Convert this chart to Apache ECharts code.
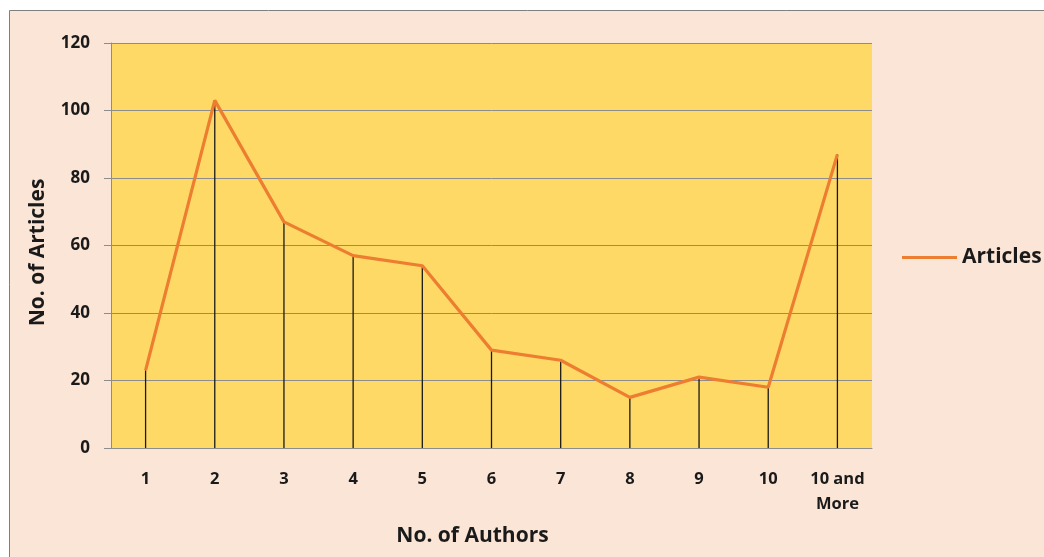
<!DOCTYPE html>
<html>
<head>
<meta charset="utf-8">
<style>
  html, body { margin: 0; padding: 0; background: #ffffff; }
  #chart { width: 1044px; height: 557px; }
</style>
<script src="https://cdn.jsdelivr.net/npm/echarts@6/dist/echarts.min.js"></script>
</head>
<body>
<div id="chart"></div>
<script>
// Number of authors per article
const categories = ['1', '2', '3', '4', '5', '6', '7', '8', '9', '10', '10 and\nMore'];
const articles = [23, 103, 67, 57, 54, 29, 26, 15, 21, 18, 87];
const yTicks = { min: 0, max: 120, interval: 20 };

const FONT = '"Open Sans", Lato, sans-serif';
const TEXT = '#1a1a1a';
const chart = echarts.init(document.getElementById('chart'));

chart.setOption({
  backgroundColor: '#ffffff',
  animation: false,
  graphic: [{
    type: 'rect',
    z: -10,
    silent: true,
    shape: { x: 9.5, y: 10.5, width: 1060, height: 580 },
    style: { fill: '#FBE5D6', stroke: '#7f7f7f', lineWidth: 1 }
  }],
  legend: {
    data: [{ name: 'Articles', icon: 'rect' }],
    orient: 'vertical',
    left: 897,
    top: 242,
    itemWidth: 55,
    itemHeight: 3,
    itemGap: 4,
    textStyle: { fontFamily: FONT, fontWeight: 'bold', fontSize: 21, color: TEXT }
  },
  grid: {
    left: 111,
    right: 172,
    top: 43,
    bottom: 109,
    show: true,
    backgroundColor: '#FFD966',
    borderWidth: 0
  },
  xAxis: {
    type: 'category',
    data: categories,
    boundaryGap: true,
    name: 'No. of Authors',
    nameLocation: 'middle',
    nameGap: 78,
    nameTextStyle: {
      fontFamily: FONT, fontWeight: 'bold', fontSize: 21, color: TEXT,
      padding: [0, 38, 0, 0]
    },
    axisLine: { show: true, lineStyle: { color: '#8c8c8c', width: 1 } },
    axisTick: { show: false },
    axisLabel: {
      fontFamily: FONT, fontWeight: 'bold', fontSize: 16.5, color: TEXT,
      margin: 19, lineHeight: 25, interval: 0
    }
  },
  yAxis: {
    type: 'value',
    min: yTicks.min,
    max: yTicks.max,
    interval: yTicks.interval,
    name: 'No. of Articles',
    nameLocation: 'middle',
    nameGap: 62,
    nameTextStyle: {
      fontFamily: FONT, fontWeight: 'bold', fontSize: 21, color: TEXT,
      padding: [0, 14, 0, 0]
    },
    axisLine: { show: true, lineStyle: { color: '#8c8c8c', width: 1 } },
    axisTick: { show: true, inside: false, length: 7, lineStyle: { color: '#8c8c8c' } },
    axisLabel: { fontFamily: FONT, fontWeight: 'bold', fontSize: 17, color: TEXT, margin: 21 },
    splitLine: { show: true, lineStyle: { color: '#8c8c8c', width: 1 } }
  },
  series: [
    {
      // drop lines from each point down to the category axis
      name: 'drop',
      type: 'bar',
      data: articles,
      barWidth: 1.3,
      barGap: '-100%',
      itemStyle: { color: '#1a1a1a' },
      silent: true,
      z: 1
    },
    {
      name: 'Articles',
      type: 'line',
      data: articles,
      showSymbol: false,
      symbol: 'none',
      lineStyle: { color: '#ED7D31', width: 3.2 },
      itemStyle: { color: '#ED7D31' },
      z: 3
    }
  ]
});
</script>
</body>
</html>
